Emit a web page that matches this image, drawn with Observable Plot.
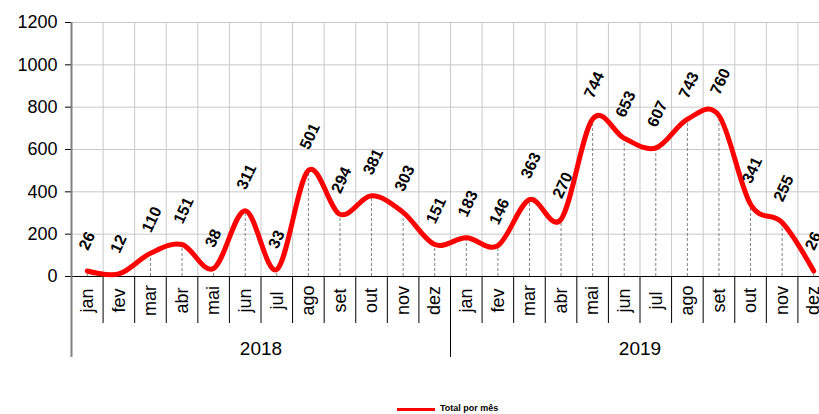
<!DOCTYPE html>
<html>
<head>
<meta charset="utf-8">
<script src="https://cdn.jsdelivr.net/npm/d3@7"></script>
<script src="https://cdn.jsdelivr.net/npm/@observablehq/plot@0.6"></script>
<style>
  html, body { margin: 0; padding: 0; background: #fff; overflow: hidden; width: 819px; height: 414px; }
  #chart svg { overflow: hidden; }
  #legend { position: absolute; left: 0; top: 398px; width: 819px; height: 16px; font-family: "Liberation Sans", Arial, sans-serif; }
  #legend .sw { position: absolute; left: 397px; top: 10px; width: 38px; height: 3px; background: #ff0000; }
  #legend .lb { position: absolute; left: 440px; top: 5px; font-size: 9px; font-weight: bold; color: #000; }
</style>
</head>
<body>
<div id="chart"></div>
<div id="legend"><div class="sw"></div><div class="lb">Total por mês</div></div>
<script>
const months = ["jan","fev","mar","abr","mai","jun","jul","ago","set","out","nov","dez"];
const years = ["2018", "2019"];
const values2018 = [26, 12, 110, 151, 38, 311, 33, 501, 294, 381, 303, 151];
const values2019 = [183, 146, 363, 270, 744, 653, 607, 743, 760, 341, 255, 26];
const yTicks = [0, 200, 400, 600, 800, 1000, 1200];

const data = [...values2018, ...values2019].map((v, i) => ({
  i, c: i + 0.5, v, month: months[i % 12], year: years[Math.floor(i / 12)]
}));
const yearData = years.map((y, k) => ({ year: y, c: k * 12 + 6 }));

const Y0 = 276, Y1 = 22;
const yAt = p => (Y0 - p) * 1200 / (Y0 - Y1); // pixel -> value, for below-axis layout
const font = '"Liberation Sans", Arial, sans-serif';

const chart = Plot.plot({
  width: 819,
  height: 398,
  margin: 0,
  style: { fontFamily: font, background: "#fff", overflow: "hidden" },
  x: { type: "linear", domain: [0, 24], range: [71, 829], axis: null },
  y: { domain: [0, 1200], range: [Y0, Y1], axis: null },
  marks: [
    Plot.ruleY(yTicks.slice(1), { x1: 0, x2: 24, stroke: "#c8c8c8", strokeWidth: 1 }),
    Plot.ruleX(d3.range(1, 25), { y1: 0, y2: 1200, stroke: "#c8c8c8", strokeWidth: 1 }),
    Plot.ruleX(data, { x: "c", y1: 0, y2: "v", stroke: "#808080", strokeWidth: 1, strokeDasharray: "3,2" }),
    Plot.ruleX(d3.range(1, 25), { y1: 0, y2: yAt(323), stroke: "#000", strokeWidth: 1 }),
    Plot.ruleX([12], { y1: 0, y2: yAt(357), stroke: "#000", strokeWidth: 1 }),
    Plot.ruleY([0], { x1: 0, x2: 24, insetLeft: -6, stroke: "#000", strokeWidth: 1.2 }),
    Plot.ruleY(yTicks, { x1: 0, x2: 0, insetLeft: -6, stroke: "#000", strokeWidth: 1 }),
    Plot.text(yTicks, { x: 0, y: d => d, text: d => String(d), textAnchor: "end", dx: -14, fontSize: 18, fill: "#000" }),
    Plot.ruleX([0], { y1: 1200, y2: yAt(357), stroke: "#808080", strokeWidth: 2 }),
    Plot.line(data, { x: "c", y: "v", curve: "cardinal", stroke: "#ff0000", strokeWidth: 5, strokeLinejoin: "round", strokeLinecap: "round" }),
    Plot.text(data, { x: "c", y: "v", text: d => String(d.v), rotate: -65, textAnchor: "start", lineAnchor: "middle", dx: -4, dy: -22, fontSize: 16, fontWeight: "bold", fill: "#000" }),
    Plot.text(data, { x: "c", y: yAt(300), text: "month", rotate: -90, textAnchor: "middle", lineAnchor: "middle", fontSize: 18, fill: "#000" }),
    Plot.text(yearData, { x: "c", y: yAt(348), text: "year", textAnchor: "middle", lineAnchor: "middle", fontSize: 19, fill: "#000" })
  ]
});
document.getElementById("chart").appendChild(chart);
</script>
</body>
</html>
